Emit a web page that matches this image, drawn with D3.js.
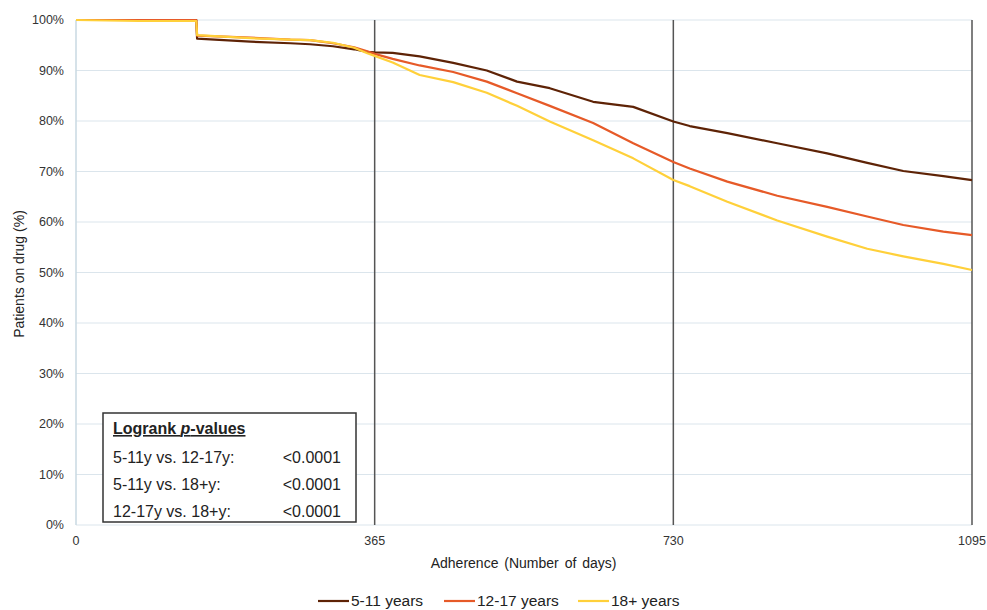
<!DOCTYPE html>
<html>
<head>
<meta charset="utf-8">
<script src="https://cdn.jsdelivr.net/npm/d3@7"></script>
<style>
  body { margin: 0; background: #fff; }
  svg { display: block; font-family: "Liberation Sans", Arial, sans-serif; }
</style>
</head>
<body>
<div id="chart-area"></div>
<script>
const chartAreaWidth = 987
const chartAreaHeight = 610
const margin = {top: 20, right: 15, bottom: 85, left: 76}
const width = chartAreaWidth - margin.left - margin.right;
const height = chartAreaHeight - margin.top - margin.bottom;

// data (days, % on drug)
const days = [0, 76, 147, 148, 213, 262, 286, 314, 340, 356, 365, 387, 420, 461, 502, 539, 579, 632, 681, 730, 750, 796, 857, 918, 967, 1011, 1060, 1095];
const age5to11 = [100, 100, 100, 96.3, 95.7, 95.4, 95.2, 94.8, 94.2, 93.7, 93.6, 93.5, 92.8, 91.5, 90.0, 87.8, 86.5, 83.8, 82.8, 79.9, 79.0, 77.6, 75.6, 73.6, 71.7, 70.1, 69.1, 68.3];
const age12to17 = [100, 100, 100, 96.9, 96.5, 96.1, 96.0, 95.4, 94.6, 93.8, 93.3, 92.3, 91.0, 89.7, 87.8, 85.5, 83.0, 79.6, 75.6, 71.9, 70.6, 68.0, 65.2, 63.0, 61.1, 59.4, 58.1, 57.4];
const age18plus = [100, 99.8, 99.8, 97.0, 96.4, 96.1, 96.0, 95.5, 94.5, 93.4, 92.9, 91.6, 89.1, 87.7, 85.6, 83.0, 79.9, 76.2, 72.6, 68.3, 67.1, 64.0, 60.3, 57.1, 54.7, 53.2, 51.7, 50.5];

const seriesNames = ["5-11 years", "12-17 years", "18+ years"];
const seriesColors = ["#5e2306", "#e65a28", "#ffd03a"];
const xTicks = [0, 365, 730, 1095];
const yTicks = [0, 10, 20, 30, 40, 50, 60, 70, 80, 90, 100];

const pLabels = ["5-11y vs. 12-17y:", "5-11y vs. 18+y:", "12-17y vs. 18+y:"];
const pValues = ["<0.0001", "<0.0001", "<0.0001"];

const svg = d3.select("#chart-area").append("svg")
    .attr("width", chartAreaWidth)
    .attr("height", chartAreaHeight);

const g = svg.append("g")
    .attr("transform", `translate(${margin.left}, ${margin.top})`);

const x = d3.scaleLinear().domain([0, 1095]).range([0, width]);
const y = d3.scaleLinear().domain([0, 100]).range([height, 0]);

// horizontal gridlines
g.selectAll(".grid")
    .data(yTicks)
    .enter().append("line")
    .attr("x1", 0).attr("x2", x(1095))
    .attr("y1", d => y(d)).attr("y2", d => y(d))
    .attr("stroke", "#dbe5ec")
    .attr("stroke-width", 1);

// left axis line
g.append("line")
    .attr("x1", 0).attr("x2", 0)
    .attr("y1", 0).attr("y2", height)
    .attr("stroke", "#c9d8e2")
    .attr("stroke-width", 1.5);

// y tick labels
g.selectAll(".ylab")
    .data(yTicks)
    .enter().append("text")
    .attr("x", -12)
    .attr("y", d => y(d))
    .attr("dy", "0.35em")
    .attr("text-anchor", "end")
    .attr("font-size", "12.5px")
    .attr("fill", "#333")
    .text(d => d + "%");

// x tick labels
g.selectAll(".xlab")
    .data(xTicks)
    .enter().append("text")
    .attr("x", d => x(d))
    .attr("y", height + 20)
    .attr("text-anchor", "middle")
    .attr("font-size", "12.5px")
    .attr("fill", "#333")
    .text(d => d);

// vertical reference lines at the year marks
g.selectAll(".vline")
    .data(xTicks.slice(1))
    .enter().append("line")
    .attr("x1", d => x(d)).attr("x2", d => x(d))
    .attr("y1", 0).attr("y2", height)
    .attr("stroke", "#555")
    .attr("stroke-width", 1.5);

// lines
const allSeries = [age5to11, age12to17, age18plus];
const line = d3.line()
    .x(d => x(d[0]))
    .y(d => y(d[1]));

allSeries.forEach((vals, i) => {
    g.append("path")
        .datum(days.map((d, j) => [d, vals[j]]))
        .attr("fill", "none")
        .attr("stroke", seriesColors[i])
        .attr("stroke-width", 2.2)
        .attr("stroke-linejoin", "round")
        .attr("d", line);
});

// axis titles
g.append("text")
    .attr("x", x(547))
    .attr("y", height + 43)
    .attr("text-anchor", "middle")
    .attr("font-size", "14px")
    .attr("word-spacing", "2px")
    .attr("fill", "#222")
    .text("Adherence (Number of days)");

svg.append("text")
    .attr("transform", `translate(24, ${margin.top + 254}) rotate(-90)`)
    .attr("text-anchor", "middle")
    .attr("font-size", "14px")
    .attr("fill", "#222")
    .text("Patients on drug (%)");

// logrank box
const box = g.append("g").attr("transform", "translate(27, 393)");
box.append("rect")
    .attr("width", 253)
    .attr("height", 109)
    .attr("fill", "#fff")
    .attr("stroke", "#333")
    .attr("stroke-width", 1.5);

const title = box.append("text")
    .attr("x", 10)
    .attr("y", 21)
    .attr("font-size", "16px")
    .attr("font-weight", "bold")
    .attr("text-decoration", "underline")
    .attr("fill", "#222");
title.append("tspan").text("Logrank ");
title.append("tspan").attr("font-style", "italic").text("p");
title.append("tspan").text("-values");

box.selectAll(".plab")
    .data(pLabels)
    .enter().append("text")
    .attr("x", 10)
    .attr("y", (d, i) => 50 + i * 27)
    .attr("font-size", "16px")
    .attr("fill", "#222")
    .text(d => d);

box.selectAll(".pval")
    .data(pValues)
    .enter().append("text")
    .attr("x", 238)
    .attr("y", (d, i) => 50 + i * 27)
    .attr("text-anchor", "end")
    .attr("font-size", "16px")
    .attr("fill", "#222")
    .text(d => d);

// legend
const legendX = [318, 444, 578];
const legend = svg.append("g");
seriesNames.forEach((name, i) => {
    legend.append("line")
        .attr("x1", legendX[i]).attr("x2", legendX[i] + 31)
        .attr("y1", 601).attr("y2", 601)
        .attr("stroke", seriesColors[i])
        .attr("stroke-width", 2.2);
    legend.append("text")
        .attr("x", legendX[i] + 33)
        .attr("y", 601)
        .attr("dy", "0.35em")
        .attr("font-size", "15.5px")
        .attr("fill", "#222")
        .text(name);
});
</script>
</body>
</html>
